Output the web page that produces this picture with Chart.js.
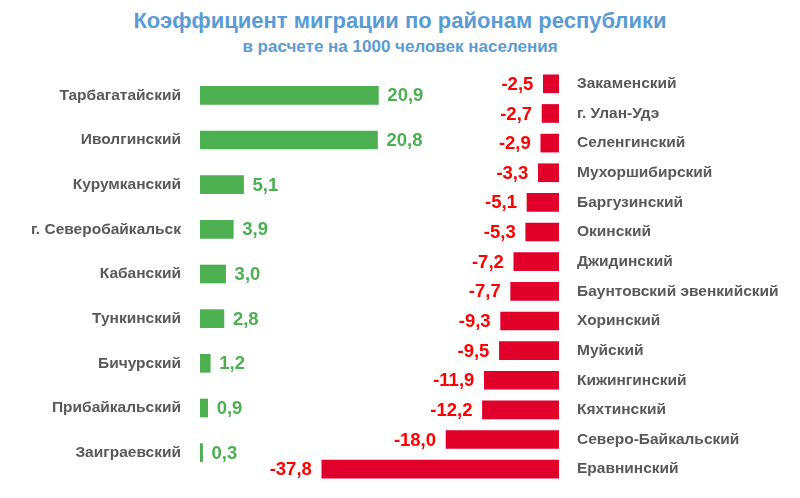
<!DOCTYPE html>
<html lang="ru">
<head>
    <meta charset="UTF-8">
    <title>Коэффициент миграции</title>
    <script src="https://cdn.jsdelivr.net/npm/chart.js"></script>
    <style>
        body { margin: 0; width: 800px; height: 498px; background: #fff; position: relative; overflow: hidden; }
        .title { position: absolute; left: 0; width: 800px; text-align: center; color: #5b9bd5; font-family: "Liberation Sans", Arial, sans-serif; font-weight: bold; }
        #t1 { top: 8px; font-size: 22px; }
        #t2 { top: 37px; font-size: 17px; }
        .box { position: absolute; }
        #leftBox { left: 0; top: 73px; width: 456px; height: 402px; }
        #rightBox { left: 248px; top: 69px; width: 552px; height: 415px; }
    </style>
</head>
<body>
    <div class="title" id="t1">Коэффициент миграции по районам республики</div>
    <div class="title" id="t2">в расчете на 1000 человек населения</div>

    <div class="box" id="leftBox"><canvas id="leftChart"></canvas></div>
    <div class="box" id="rightBox"><canvas id="rightChart"></canvas></div>

    <script>
        // Positive migration (green)
        const plusDistricts = ['Тарбагатайский', 'Иволгинский', 'Курумканский', 'г. Северобайкальск',
            'Кабанский', 'Тункинский', 'Бичурский', 'Прибайкальский', 'Заиграевский'];
        const plusValues = [20.9, 20.8, 5.1, 3.9, 3.0, 2.8, 1.2, 0.9, 0.3];

        // Negative migration (red)
        const minusDistricts = ['Закаменский', 'г. Улан-Удэ', 'Селенгинский', 'Мухоршибирский', 'Баргузинский',
            'Окинский', 'Джидинский', 'Баунтовский эвенкийский', 'Хоринский', 'Муйский', 'Кижингинский',
            'Кяхтинский', 'Северо-Байкальский', 'Еравнинский'];
        const minusValues = [-2.5, -2.7, -2.9, -3.3, -5.1, -5.3, -7.2, -7.7, -9.3, -9.5, -11.9, -12.2, -18.0, -37.8];

        const fontFamily = '"Liberation Sans", Arial, sans-serif';

        function fmt(v) {
            return v.toFixed(1).replace('.', ',');
        }

        // draws the value next to each bar
        function valueLabels(color, side) {
            return {
                id: 'valueLabels',
                afterDatasetsDraw(chart) {
                    const ctx = chart.ctx;
                    const meta = chart.getDatasetMeta(0);
                    const data = chart.data.datasets[0].data;
                    ctx.save();
                    ctx.font = 'bold 18.5px ' + fontFamily;
                    ctx.fillStyle = color;
                    ctx.textBaseline = 'middle';
                    meta.data.forEach((bar, i) => {
                        if (side === 'right') {
                            ctx.textAlign = 'left';
                            ctx.fillText(fmt(data[i]), bar.x + 9, bar.y + 1);
                        } else {
                            ctx.textAlign = 'right';
                            ctx.fillText(fmt(data[i]), bar.x - 10, bar.y + 1);
                        }
                    });
                    ctx.restore();
                }
            };
        }

        function makeChart(id, labels, values, opts) {
            return new Chart(document.getElementById(id), {
                type: 'bar',
                data: {
                    labels: labels,
                    datasets: [{
                        data: values,
                        backgroundColor: opts.barColor,
                        barThickness: 18
                    }]
                },
                options: {
                    indexAxis: 'y',
                    responsive: true,
                    maintainAspectRatio: false,
                    animation: false,
                    layout: { padding: opts.padding },
                    plugins: { legend: { display: false }, tooltip: { enabled: false } },
                    scales: {
                        x: { display: false, min: opts.min, max: opts.max },
                        y: {
                            position: opts.axisPos,
                            grid: { display: false, drawTicks: false },
                            border: { display: false },
                            ticks: {
                                color: '#595959',
                                padding: opts.tickPad,
                                font: { family: fontFamily, size: 15.5, weight: 'bold' }
                            },
                            afterFit(scale) {
                                // keep the axis a fixed width and stop it eating vertical room
                                scale.width = opts.axisWidth;
                                scale.paddingTop = 0;
                                scale.paddingBottom = 0;
                            }
                        }
                    }
                },
                plugins: [valueLabels(opts.textColor, opts.side)]
            });
        }

        makeChart('leftChart', plusDistricts, plusValues, {
            barColor: '#4caf50', textColor: '#4caf50', side: 'right',
            min: 0, max: 30, axisPos: 'left', axisWidth: 200, tickPad: 19,
            padding: { left: 0, right: 0, top: 0, bottom: 0 }
        });

        makeChart('rightChart', minusDistricts, minusValues, {
            barColor: '#e0002a', textColor: '#ff0000', side: 'left',
            min: -40, max: 0, axisPos: 'right', axisWidth: 241, tickPad: 18,
            padding: { left: 60, right: 0, top: 0, bottom: 0 }
        });
    </script>
</body>
</html>
